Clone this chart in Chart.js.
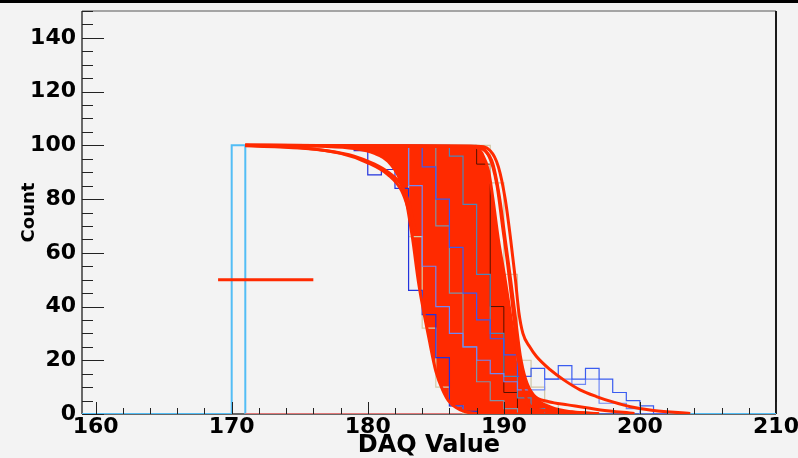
<!DOCTYPE html>
<html>
<head>
<meta charset="utf-8">
<script src="https://cdn.jsdelivr.net/npm/chart.js@4.4.0/dist/chart.umd.min.js"></script>
<style>
  html, body { margin: 0; padding: 0; background: #f3f3f3; }
  canvas { display: block; }
</style>
</head>
<body>
<canvas id="daq" width="798" height="458"></canvas>
<script>
// ejes
const xRange = [159, 210];
const yRange = [0, 150];
const xTicks = [160, 170, 180, 190, 200, 210];
const yTicks = [0, 20, 40, 60, 80, 100, 120, 140];

// bordes de bins (ancho 1), conteos por bin 171..201
const binEdges = [171, 172, 173, 174, 175, 176, 177, 178, 179, 180, 181, 182, 183, 184, 185, 186,
                  187, 188, 189, 190, 191, 192, 193, 194, 195, 196, 197, 198, 199, 200, 201, 202];

const histBlue  = [100,100,100,100,100,100,100,100,100,100,100,100,100, 92, 80, 62, 45, 35, 28, 22, 14, 17, 13, 18, 13, 17, 13,  8,  5,  3,  0];
const histBlue2 = [100,100,100,100,100,100,100,100,100,100,100,100, 85, 55, 40, 30, 25, 20, 15, 12,  9,  9, 13, 13, 11, 13,  4,  4,  2,  0,  0];
const histDeep  = [100,100,100,100,100,100,100,100, 98, 89, 91, 84, 46, 37, 21,  3,  1,  0,  0,  0,  0,  0,  0,  0,  0,  0,  0,  0,  0,  0,  0];
const histSteel = [100,100,100,100,100,100,100,100,100,100,100,100,100,100,100, 96, 78, 52, 30, 14,  6,  2,  0,  0,  0,  0,  0,  0,  0,  0,  0];
const histTan   = [100,100,100,100,100,100,100,100,100,100,100,100,100,100,100,100,100,100, 86, 52, 20, 10,  4,  1,  0,  0,  0,  0,  0,  0,  0];
const histTan2  = [100,100,100,100,100,100,100,100,100,100,100,100, 66, 32, 10,  3,  0,  0,  0,  0,  0,  0,  0,  0,  0,  0,  0,  0,  0,  0,  0];
const histGray  = [100,100,100,100,100,100,100,100,100,100,100,100,100,100, 70, 45, 25, 12,  5,  2,  0,  0,  0,  0,  0,  0,  0,  0,  0,  0,  0];
const histDark  = [100,100,100,100,100,100,100,100,100,100,100,100,100,100,100,100,100, 93, 40,  8,  0,  0,  0,  0,  0,  0,  0,  0,  0,  0,  0];

// histograma cian: un solo bin
const cyanBin = [170, 171];
const cyanCount = 100;

// curvas de ajuste (rojo), leidas como [x, y]
const fitLeft  = [[171,100],[177,99.6],[179,98.8],[180.5,97],[181.5,94],[182.3,88],[182.8,80],[183.3,65],[183.7,50],
                  [184,41],[184.5,28],[185,16],[185.5,9],[186,4.5],[186.8,1.5],[188,0.2],[192,0],[197,0]];
const fitRight = [[171,100],[187.8,99.6],[188.4,97],[188.9,90],[189.2,80],[189.6,65],[190.1,50],[190.4,40],
                  [190.7,30],[191.1,20],[191.6,12],[192.3,6],[193.5,2.5],[195,0.8],[197,0.1]];
const fitEarly1 = [[171,100],[174,99.5],[177,98],[179,96],[180.5,93],[181.5,90],[182.5,85],[183,79],[183.5,68]];
const fitEarly2 = [[171,99.8],[175,99],[178,97],[180,93.5],[181.5,89],[182.5,83],[183,76],[183.4,68]];
const fitTail1 = [[171,100],[188,99.7],[189,98],[189.6,92],[190.1,80],[190.5,65],[190.85,50],[191.1,38],[191.4,30],
                  [191.9,25],[192.4,21.4],[193.4,16.5],[194.4,12.7],[195.6,9],[196.8,6.5],[198,4.5],[199.3,2.7],
                  [201,1.3],[203.7,0.2]];
const fitTail2 = [[171,100],[187.5,99.7],[188.6,98],[189.2,93],[189.7,80],[190.1,65],[190.5,50],[190.8,38],
                  [191.2,22],[191.6,13],[192.2,7],[193.3,4.6],[194.7,3.4],[197.1,1.5],[199.6,0.2]];
const fitTail3 = [[171,100],[187.8,99.6],[188.9,96],[189.5,85],[189.9,70],[190.3,55],[190.6,42],[190.9,28],
                  [191.3,12],[191.7,5],[192.2,2.2],[194,1],[196.9,0.1]];

// marcador horizontal y lineas base
const fitMarker = [[169, 50], [176, 50]];
const pinkBase = [[171, 0], [197, 0]];
const grayBase = [[194.7, 0], [197, 0]];

const RED = '#ff2a00';

function toPts(arr) {
    return arr.map(p => ({ x: p[0], y: p[1] }));
}

// escalones del histograma: cada punto en el borde inferior del bin
function histPoints(counts) {
    var pts = [];
    counts.forEach(function(c, i) { pts.push({ x: binEdges[i], y: c }); });
    pts.push({ x: binEdges[counts.length], y: 0 });
    return pts;
}

function hist(counts, color, width) {
    return { data: histPoints(counts), borderColor: color, borderWidth: width || 1.2, stepped: 'before', order: 2 };
}

function fit(arr, order) {
    return { data: toPts(arr), borderColor: RED, borderWidth: 3, cubicInterpolationMode: 'monotone', order: order || 1 };
}

// marco, fondo y ticks hacia adentro al estilo ROOT
const rootFrame = {
    id: 'rootFrame',
    beforeDraw(chart) {
        const ctx = chart.ctx;
        ctx.save();
        ctx.fillStyle = '#f3f3f3';
        ctx.fillRect(0, 0, chart.width, chart.height);
        ctx.fillStyle = '#000';
        ctx.fillRect(0, 0, chart.width, 3);
        ctx.restore();
    },
    beforeDatasetsDraw(chart) {
        const ctx = chart.ctx, a = chart.chartArea;
        ctx.save();
        ctx.lineWidth = 1.5;
        ctx.strokeStyle = '#8a8a8a';
        ctx.beginPath(); ctx.moveTo(a.left, a.top); ctx.lineTo(a.right, a.top); ctx.stroke();
        ctx.strokeStyle = '#3a3a3a';
        ctx.beginPath(); ctx.moveTo(a.left, a.top); ctx.lineTo(a.left, a.bottom); ctx.stroke();
        ctx.beginPath(); ctx.moveTo(a.left, a.bottom); ctx.lineTo(a.right, a.bottom); ctx.stroke();
        ctx.lineWidth = 2;
        ctx.strokeStyle = '#1a1a1a';
        ctx.beginPath(); ctx.moveTo(a.right, a.top); ctx.lineTo(a.right, a.bottom); ctx.stroke();
        ctx.restore();
    },
    afterDatasetsDraw(chart) {
        const ctx = chart.ctx, a = chart.chartArea;
        const xs = chart.scales.x, ys = chart.scales.y;
        ctx.save();
        ctx.lineWidth = 1;
        ctx.strokeStyle = '#222';
        ctx.beginPath();
        for (let v = yRange[0]; v <= yRange[1]; v += 5) {
            const py = Math.round(ys.getPixelForValue(v)) + 0.5;
            const len = yTicks.includes(v) ? 22 : 11;
            ctx.moveTo(a.left, py); ctx.lineTo(a.left + len, py);
        }
        for (let v = xTicks[0]; v <= xTicks[xTicks.length - 1]; v += 2) {
            const px = Math.round(xs.getPixelForValue(v)) + 0.5;
            const len = xTicks.includes(v) ? 12 : 6;
            ctx.moveTo(px, a.bottom); ctx.lineTo(px, a.bottom - len);
        }
        ctx.stroke();
        ctx.restore();
    }
};

document.addEventListener('DOMContentLoaded', function() {
    var canvas = document.getElementById('daq');
    var tickFont = { family: 'DejaVu Sans', weight: 'bold', size: 22 };

    new Chart(canvas, {
        type: 'line',
        data: {
            datasets: [
                { data: toPts(fitMarker), borderColor: RED, borderWidth: 3, order: 0 },
                hist(histBlue, '#3a5cf0'),
                hist(histBlue2, '#7088f5'),
                hist(histDeep, '#2233dd'),
                hist(histSteel, '#4f86b8'),
                hist(histTan, '#cfc6a6'),
                hist(histTan2, '#d4cba8'),
                hist(histGray, '#7f93a6'),
                hist(histDark, '#551100', 1),
                fit(fitEarly1),
                fit(fitEarly2),
                fit(fitTail1),
                fit(fitTail2),
                fit(fitTail3),
                fit(fitLeft),
                fit(fitRight),
                // banda rellena entre la curva izquierda y la derecha (debajo de los histogramas)
                { data: toPts(fitLeft), borderWidth: 0, borderColor: RED, cubicInterpolationMode: 'monotone', order: 3 },
                { data: toPts(fitRight), borderWidth: 0, borderColor: RED, cubicInterpolationMode: 'monotone',
                  fill: '-1', backgroundColor: RED, order: 3 },
                { data: toPts(pinkBase), borderColor: '#e07878', borderWidth: 2, order: 4 },
                { data: toPts(grayBase), borderColor: '#777777', borderWidth: 2, order: 4 },
                {
                    data: [
                        { x: xRange[0], y: 0 },
                        { x: cyanBin[0], y: cyanCount },
                        { x: cyanBin[1], y: 0 },
                        { x: xRange[1], y: 0 }
                    ],
                    borderColor: '#52bdf5', borderWidth: 2, stepped: 'before', order: 5
                }
            ]
        },
        options: {
            responsive: false,
            animation: false,
            devicePixelRatio: 1,
            layout: { padding: { top: 11, right: 22, left: 0, bottom: 0 } },
            elements: { point: { radius: 0 }, line: { fill: false } },
            plugins: { legend: { display: false }, tooltip: { enabled: false } },
            scales: {
                x: {
                    type: 'linear',
                    min: xRange[0],
                    max: xRange[1],
                    afterBuildTicks: function(s) { s.ticks = xTicks.map(v => ({ value: v })); },
                    afterFit: function(s) { s.height = 44; s.paddingLeft = 0; s.paddingRight = 0; },
                    grid: { display: false, drawTicks: false },
                    border: { display: false },
                    ticks: { font: tickFont, color: '#000', padding: 0, maxRotation: 0, autoSkip: false },
                    title: {
                        display: true, text: 'DAQ Value', color: '#000',
                        font: { family: 'DejaVu Sans', weight: 'bold', size: 24, lineHeight: 1.0 },
                        padding: { top: 0, bottom: 0 }
                    }
                },
                y: {
                    type: 'linear',
                    min: yRange[0],
                    max: yRange[1],
                    afterBuildTicks: function(s) { s.ticks = yTicks.map(v => ({ value: v })); },
                    afterFit: function(s) { s.width = 82; s.paddingTop = 0; s.paddingBottom = 0; },
                    grid: { display: false, drawTicks: false },
                    border: { display: false },
                    ticks: { font: tickFont, color: '#000', padding: 6, autoSkip: false },
                    title: {
                        display: true, text: 'Count', color: '#000',
                        font: { family: 'DejaVu Sans', weight: 'bold', size: 18 },
                        padding: { top: 19, bottom: 0 }
                    }
                }
            }
        },
        plugins: [rootFrame]
    });
});
</script>
</body>
</html>
